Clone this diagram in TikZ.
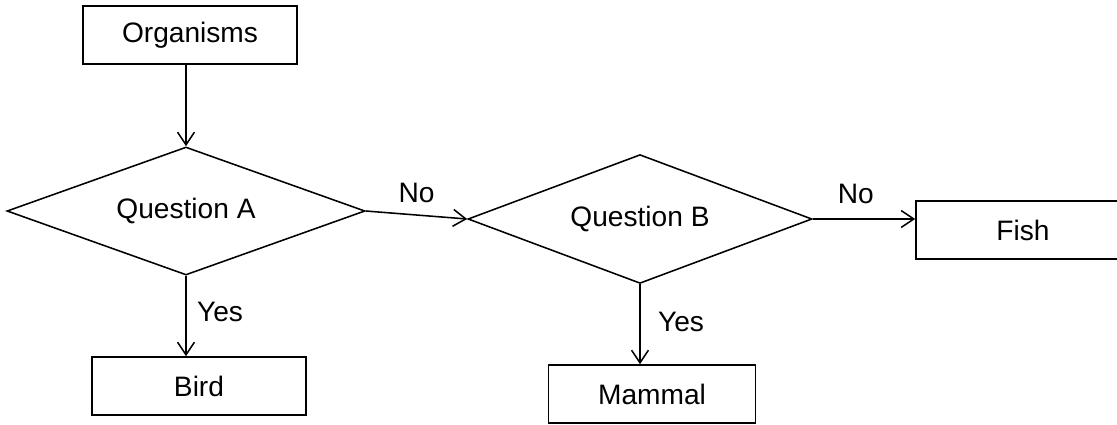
\documentclass[tikz,border=0pt]{standalone}
\usepackage{fontspec}
\setmainfont{Liberation Sans}
\usetikzlibrary{shapes.geometric,arrows.meta}
\begin{document}
\begin{tikzpicture}[x=0.025cm, y=-0.025cm, line width=1.1pt,
		font=\fontsize{20}{23}\selectfont,
		box/.style={draw, rectangle, minimum width=5.35cm, minimum height=1.45cm, inner sep=0pt},
		question/.style={draw, diamond, aspect=2.8, inner sep=0pt},
		link/.style={-{Straight Barb[length=9pt,width=12pt]}}]
			\useasboundingbox (0,0) rectangle (1117,424);
			\node[box] (org) at (190,35) {Organisms};
			\node[question, minimum width=8.95cm, minimum height=3.2cm] (qa) at (186,211) {Question A};
			\node[question, minimum width=8.6cm, minimum height=3.22cm] (qb) at (640,219) {Question B};
			\node[box] (bird) at (199,386) {Bird};
			\node[box, minimum width=5.18cm] (mammal) at (652,394) {Mammal};
			\node[box] (fish) at (1023,230) {Fish};
			\draw[link] (qa.north |- org.south) -- (qa.north);
			\draw[link] (qa.east) -- node[above=5pt] (noa) {No} (qb.west);
			\draw[link] (qb.east) -- node[above=7pt, pos=0.42] (nob) {No} (qb.east -| fish.west);
			\draw[link] (qa.south) -- node[right=4pt, pos=0.45] (yesa) {Yes} (qa.south |- bird.north);
			\draw[link] (qb.south) -- node[right=9pt, pos=0.47] (yesb) {Yes} (qb.south |- mammal.north);
		\end{tikzpicture}
\end{document}
